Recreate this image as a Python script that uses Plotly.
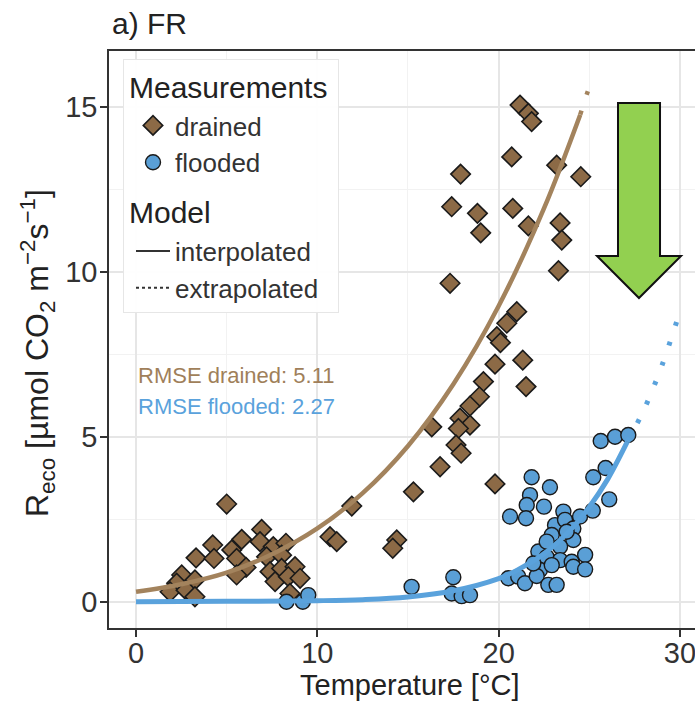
import plotly.graph_objects as go

# Measurements: soil temperature [°C] and ecosystem respiration
drained_temp = [5.0, 6.93, 4.23, 5.83, 6.84, 3.31, 4.3, 5.28, 5.55, 6.07, 5.55, 2.52, 3.25, 2.24,
                1.88, 2.76, 3.25, 7.57, 8.27, 7.2, 8.03, 7.39, 8.03, 8.77, 7.67, 8.4, 9.05, 8.49,
                10.7, 11.07, 11.9,
                21.18, 21.64, 21.82, 20.72, 17.9, 23.2, 24.53, 17.41, 18.83, 19.01, 20.78, 21.64,
                23.39, 23.48, 23.3, 17.32, 21.0, 20.45, 19.9, 20.1, 19.8, 21.33, 21.51, 19.16,
                18.94, 18.42, 17.87, 18.42, 17.78, 16.31, 17.65, 17.93, 16.77, 19.8, 15.3, 14.38,
                14.16]
drained_reco = [2.96, 2.19, 1.72, 1.89, 1.82, 1.33, 1.31, 1.57, 1.31, 1.04, 0.81, 0.81, 0.66, 0.56,
                0.30, 0.35, 0.15, 1.67, 1.77, 1.36, 1.41, 0.91, 1.01, 1.06, 0.61, 0.76, 0.71, 0.25,
                1.97, 1.82, 2.9,
                15.05, 14.8, 14.55, 13.48, 12.96, 13.23, 12.88, 11.97, 11.77, 11.18, 11.92, 11.39,
                11.48, 10.96, 10.03, 9.65, 8.79, 8.44, 8.03, 7.85, 7.2, 7.32, 6.52, 6.67,
                6.21, 5.93, 5.56, 5.35, 5.25, 5.3, 4.75, 4.5, 4.09, 3.57, 3.33, 1.87,
                1.62]

flooded_temp = [8.3, 9.2, 9.5, 15.2, 17.5, 17.41, 17.96, 18.42,
                21.82, 22.83, 21.73, 21.55, 22.5, 20.63, 21.51, 23.57, 24.49, 25.19, 26.1, 25.22,
                25.9, 25.63, 26.42, 27.15,
                23.11, 23.66, 24.12, 22.93, 24.12, 23.39, 22.19, 22.65, 23.39, 24.03, 24.77, 24.12,
                24.77, 22.28, 22.93, 20.53, 21.08, 21.45, 22.1, 22.74, 23.2, 21.91, 22.65, 23.75]
flooded_reco = [0.0, 0.0, 0.2, 0.45, 0.74, 0.25, 0.17, 0.2,
                3.77, 3.47, 3.23, 2.93, 2.88, 2.58, 2.53, 2.73, 2.58, 2.76, 3.1, 3.77,
                4.05, 4.87, 5.0, 5.05,
                2.32, 2.48, 2.22, 2.02, 1.87, 1.67, 1.52, 1.35, 1.26, 1.21, 1.42, 1.06,
                0.98, 0.96, 1.11, 0.71, 0.76, 0.56, 0.78, 0.51, 0.51, 1.16, 1.82, 2.12]

# Fitted temperature-response model (interpolated / extrapolated parts)
drained_fit_temp = [0, 2.5, 5, 7.5, 10, 12.5, 15, 17.5, 20, 22.5, 24.5]
drained_fit_reco = [0.30, 0.53, 0.88, 1.44, 2.22, 3.29, 4.72, 6.59, 8.96, 11.92, 14.76]
drained_ext_temp = [24.5, 24.75, 25.0]
drained_ext_reco = [14.76, 15.2, 15.6]

flooded_fit_temp = [0, 5, 10, 12.5, 15, 17.5, 20, 21, 22.5, 24, 25, 26, 27.1]
flooded_fit_reco = [0.0, 0.01, 0.03, 0.06, 0.14, 0.33, 0.70, 0.95, 1.45, 2.2, 2.87, 3.7, 4.85]
flooded_ext_temp = [27.1, 28, 29, 30]
flooded_ext_reco = [4.85, 5.8, 7.15, 8.8]

rmse_labels = ["RMSE drained: 5.11", "RMSE flooded: 2.27"]
x_ticks = [0, 10, 20, 30]
y_ticks = [0, 5, 10, 15]

BROWN_PT = "#8c6a46"
BROWN_LN = "#a3835d"
BLUE_PT = "#5a9fd6"
BLUE_LN = "#5aa2dc"
FONT = "Liberation Sans, Arial, sans-serif"

fig = go.Figure()

# points
fig.add_trace(go.Scatter(
    x=drained_temp, y=drained_reco, mode="markers", showlegend=False,
    marker=dict(symbol="diamond", size=15, color=BROWN_PT,
                line=dict(color="#1a1a1a", width=1.6))))
fig.add_trace(go.Scatter(
    x=flooded_temp, y=flooded_reco, mode="markers", showlegend=False,
    marker=dict(symbol="circle", size=15, color=BLUE_PT,
                line=dict(color="#1a1a1a", width=1.4))))

# model curves
fig.add_trace(go.Scatter(x=drained_fit_temp, y=drained_fit_reco, mode="lines", showlegend=False,
                         line=dict(color=BROWN_LN, width=4.5, shape="spline")))
fig.add_trace(go.Scatter(x=drained_ext_temp, y=drained_ext_reco, mode="lines", showlegend=False,
                         line=dict(color=BROWN_LN, width=4.5, dash="4px,17px", shape="spline")))
fig.add_trace(go.Scatter(x=flooded_fit_temp, y=flooded_fit_reco, mode="lines", showlegend=False,
                         line=dict(color=BLUE_LN, width=5, shape="spline")))
fig.add_trace(go.Scatter(x=flooded_ext_temp, y=flooded_ext_reco, mode="lines", showlegend=False,
                         line=dict(color=BLUE_LN, width=5, dash="4px,17px", shape="spline")))

# legend entries
fig.add_trace(go.Scatter(x=[None], y=[None], mode="markers", name="drained",
                         legendgroup="meas", legendgrouptitle_text="Measurements",
                         marker=dict(symbol="diamond", size=15, color=BROWN_PT,
                                     line=dict(color="#1a1a1a", width=1.6))))
fig.add_trace(go.Scatter(x=[None], y=[None], mode="markers", name="flooded",
                         legendgroup="meas",
                         marker=dict(symbol="circle", size=15, color=BLUE_PT,
                                     line=dict(color="#1a1a1a", width=1.4))))
fig.add_trace(go.Scatter(x=[None], y=[None], mode="lines", name="interpolated",
                         legendgroup="model", legendgrouptitle_text="Model",
                         line=dict(color="#333333", width=2)))
fig.add_trace(go.Scatter(x=[None], y=[None], mode="lines", name="extrapolated",
                         legendgroup="model",
                         line=dict(color="#333333", width=2, dash="3px,3px")))

axis_common = dict(
    showline=True, linecolor="#333333", linewidth=1.5,
    ticks="outside", ticklen=7, tickwidth=1.5, tickcolor="#333333",
    tickfont=dict(family=FONT, size=29, color="#333333"),
    showgrid=True, gridcolor="#e6e6e6", gridwidth=1.8,
    minor=dict(showgrid=True, gridcolor="#f2f2f2", gridwidth=1, ticks=""),
    zeroline=False, ticklabeloverflow="allow",
)

fig.update_xaxes(range=[-1.49, 30.83], tickvals=x_ticks, mirror=True,
                 minor_dtick=5, ticklabelstandoff=-9, **axis_common)
fig.update_yaxes(range=[-0.797, 16.69], tickvals=y_ticks,
                 minor_dtick=2.5, ticklabelstandoff=-3, **axis_common)

# arrow (paper coordinates)
L, R, T, B = 109, 695, 51, 628
arrow_px = [(618, 103), (660, 103), (660, 256), (681, 256), (639, 298), (597, 256), (618, 256)]
pts = [((x - L) / (R - L), (B - y) / (B - T)) for x, y in arrow_px]
path = "M " + " L ".join(f"{px:.4f},{py:.4f}" for px, py in pts) + " Z"
fig.add_shape(type="path", path=path, xref="paper", yref="paper",
              fillcolor="#92d050", line=dict(color="#111111", width=2))

fig.update_layout(
    width=695, height=701,
    margin=dict(l=L, r=0, t=T, b=701 - B),
    plot_bgcolor="white", paper_bgcolor="white",
    font=dict(family=FONT, color="#222222"),
    legend=dict(
        x=(123 - L) / (R - L), y=(B - 59) / (B - T), xanchor="left", yanchor="top",
        bgcolor="rgba(255,255,255,0.95)", bordercolor="#e6e6e6", borderwidth=1,
        font=dict(family=FONT, size=26, color="#333333"),
        grouptitlefont=dict(family=FONT, size=30, color="#222222"),
        tracegroupgap=10, traceorder="grouped", itemwidth=34, indentation=7,
    ),
    annotations=[
        dict(text="a) FR", x=(110 - L) / (R - L), xref="paper", y=(B - 24) / (B - T),
             yref="paper", xanchor="left", yanchor="middle", showarrow=False,
             font=dict(family=FONT, size=30, color="#222222")),
        dict(text=rmse_labels[0], x=0, xref="x", y=6.87, yref="y", xanchor="left",
             yanchor="middle", showarrow=False,
             font=dict(family=FONT, size=22, color="#a07f5a")),
        dict(text=rmse_labels[1], x=0, xref="x", y=5.93, yref="y", xanchor="left",
             yanchor="middle", showarrow=False,
             font=dict(family=FONT, size=22, color="#5aa2dc")),
        dict(text="Temperature [°C]", x=15.1, xref="x", y=(B - 685) / (B - T),
             yref="paper", xanchor="center", yanchor="middle", showarrow=False,
             font=dict(family=FONT, size=29, color="#222222")),
        dict(text="R<sub>eco</sub> [µmol CO<sub>2</sub> m<sup>−2</sup>s<sup>−1</sup>]",
             x=(37 - L) / (R - L), xref="paper", y=(B - 353) / (B - T), yref="paper",
             xanchor="center", yanchor="middle", textangle=-90, showarrow=False,
             font=dict(family=FONT, size=32, color="#222222")),
    ],
)

fig.write_html("out.html")
